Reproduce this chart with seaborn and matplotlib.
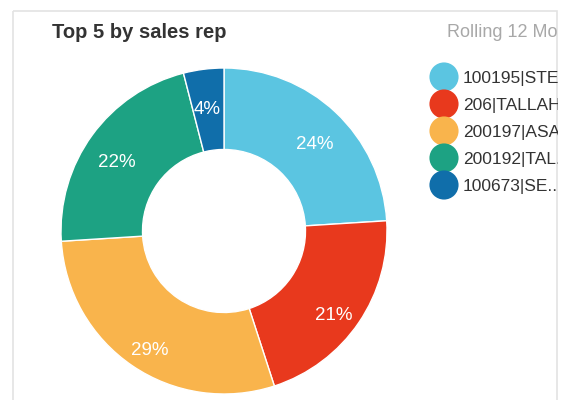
import matplotlib
matplotlib.use("Agg")
import matplotlib.pyplot as plt
from matplotlib.patches import Rectangle
from matplotlib.transforms import offset_copy
import seaborn as sns

# ---- data ----
reps = ["100195|STE..", "206|TALLAH..", "200197|ASA..", "200192|TAL..", "100673|SE.."]
shares = [24, 21, 29, 22, 4]
colors = ["#5BC5E1", "#E8391D", "#F9B44C", "#1DA283", "#106EAA"]
title = "Top 5 by sales rep"
subtitle = "Rolling 12 Mo"

sns.set_theme(style="white")
plt.rcParams["font.family"] = ["Liberation Sans", "DejaVu Sans"]

W, H = 562, 400
fig = plt.figure(figsize=(W / 100, H / 100), dpi=100)
fig.patch.set_facecolor("white")

# card overlay axes (pixel coords), used for clipping texts at the card edge
card_l, card_t, card_r = 12, 10, 558
card = fig.add_axes([card_l / W, 0, (card_r - card_l) / W, 1 - card_t / H])
card.set_xlim(card_l, card_r)
card.set_ylim(H, card_t)
card.axis("off")
card.add_patch(Rectangle((card_l + 0.5, card_t + 0.5), card_r - card_l - 1.5, H,
                         facecolor="none", edgecolor="#E3E3E3", lw=1.2, clip_on=False))

card.text(52, 32, title, fontsize=14.5, fontweight="bold", color="#333333",
          va="center", ha="left", clip_on=True)
card.text(447, 32, subtitle, fontsize=13, color="#A8A8A8",
          va="center", ha="left", clip_on=True)

# legend (manual, clipped at card edge)
leg_y0, leg_dy = 77, 27
for i, (lab, c) in enumerate(zip(reps, colors)):
    y = leg_y0 + i * leg_dy
    card.scatter([444], [y], s=440, color=c, edgecolors="none", clip_on=True, zorder=3)
    card.text(463, y + 1, lab, fontsize=12.5, color="#333333", va="center",
              ha="left", clip_on=True)

# donut
cx, cy, R = 224, 231, 163
ax = fig.add_axes([(cx - R) / W, (H - cy - R) / H, 2 * R / W, 2 * R / H])
wedges, texts, autotexts = ax.pie(
    shares, colors=colors, startangle=90, counterclock=False, radius=1,
    autopct="%d%%", pctdistance=0.815,
    wedgeprops=dict(width=0.5, edgecolor="white", linewidth=1.0),
    textprops=dict(color="white", fontsize=13.5),
)
shift = offset_copy(ax.transData, fig=fig, x=0, y=-10, units="dots")
for t in autotexts:
    t.set_transform(shift)
ax.set_xlim(-1, 1)
ax.set_ylim(-1, 1)
ax.set_aspect("equal")
ax.axis("off")

fig.savefig("out.png", dpi=100, facecolor="white")
